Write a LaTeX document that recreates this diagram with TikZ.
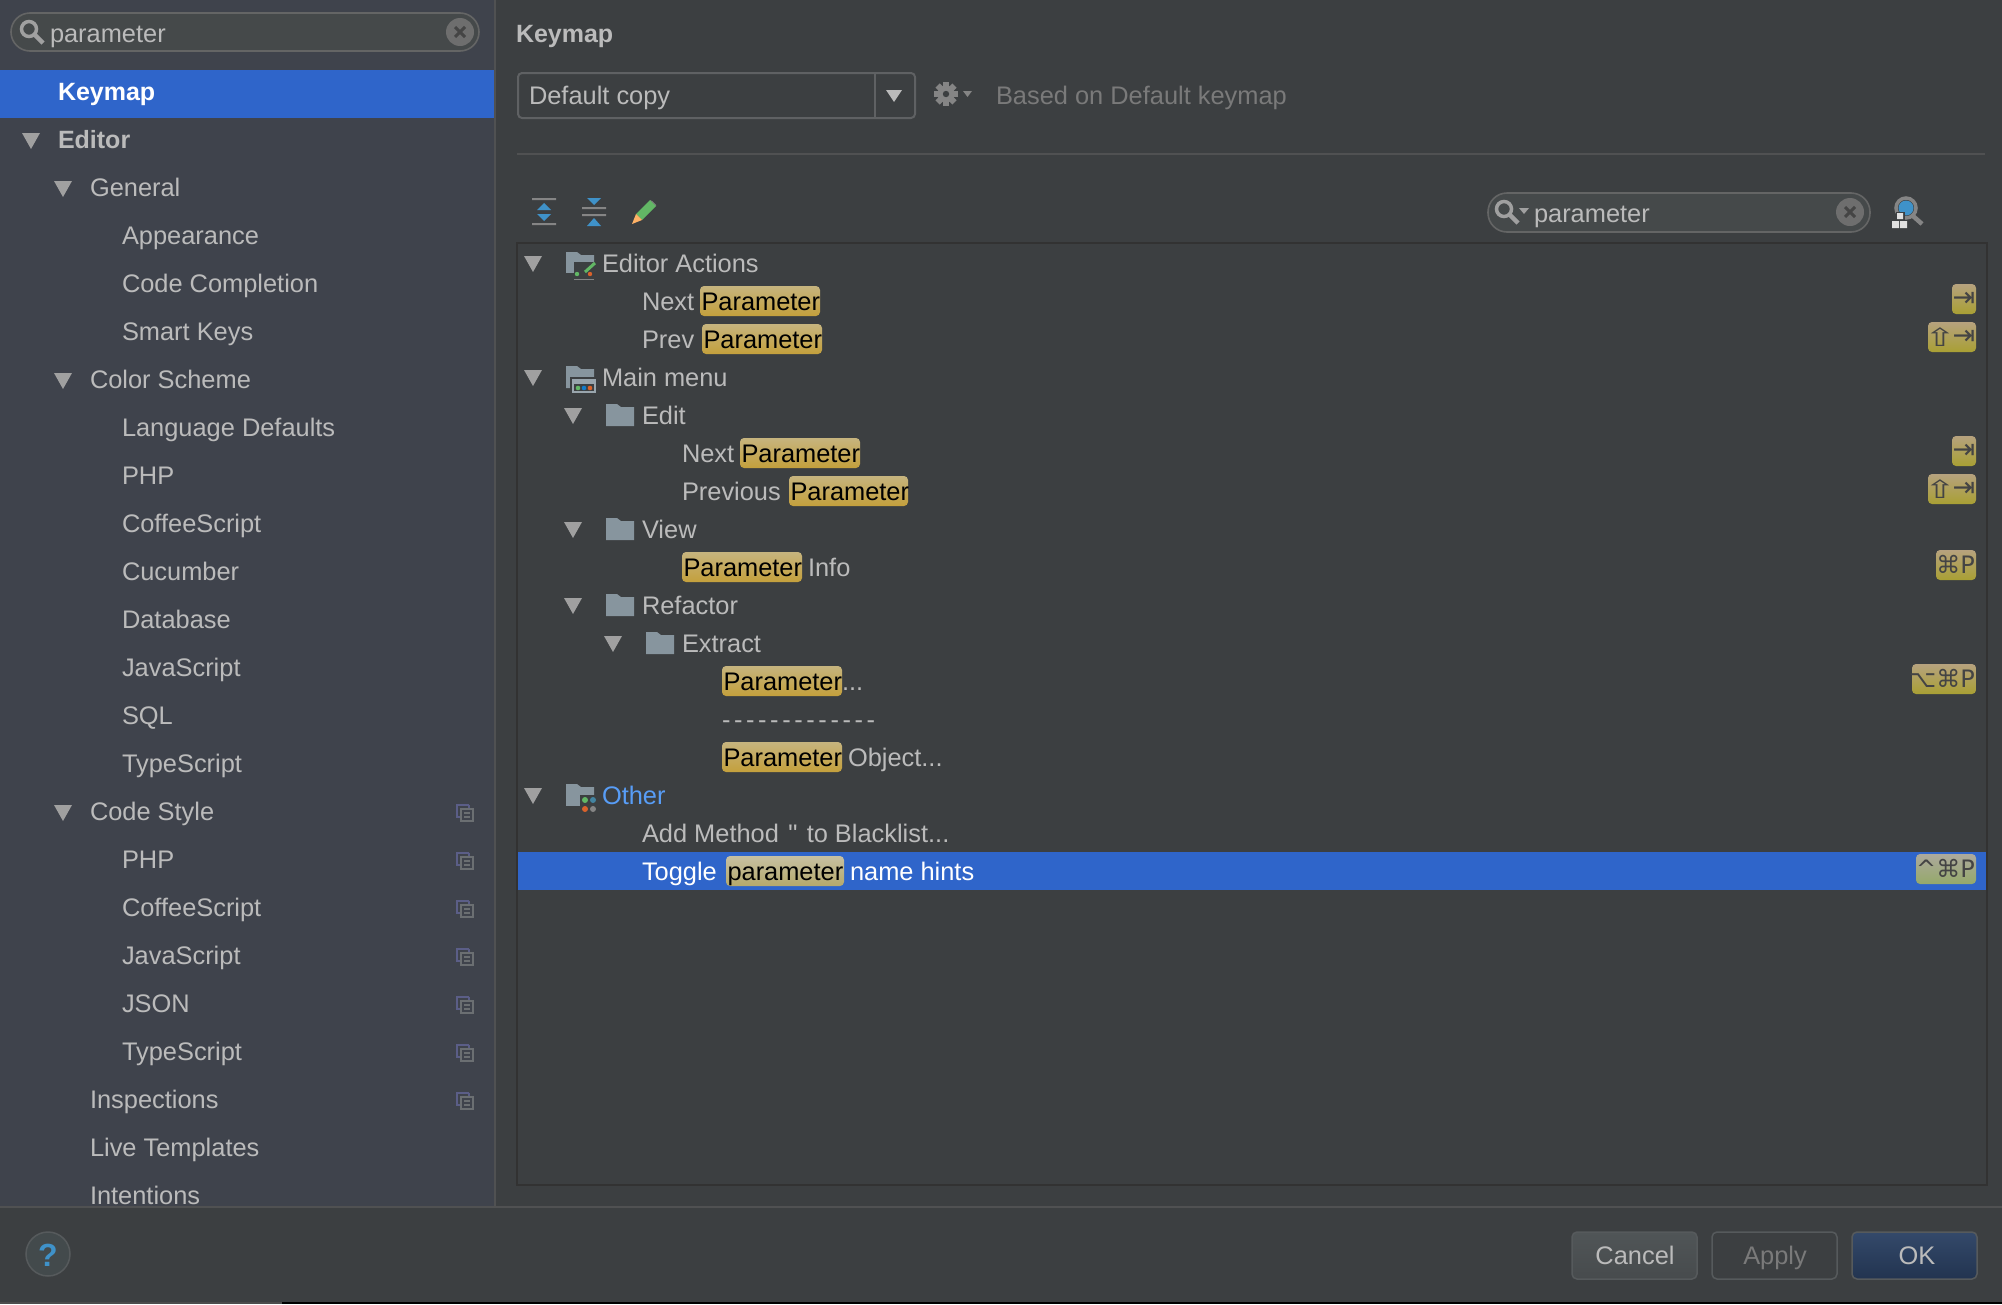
\documentclass[tikz,border=0pt]{standalone}
\usepackage{fontspec}
\setmainfont{Liberation Sans}
\newfontfamily\symfont{DejaVu Sans}
\newfontfamily\qfont{Liberation Sans}
\definecolor{sidebg}{HTML}{3F434C}
\definecolor{mainbg}{HTML}{3C3F41}
\definecolor{seltop}{HTML}{2F65CA}
\definecolor{txt}{HTML}{BBBBBB}
\definecolor{dimtxt}{HTML}{7A7A7A}
\definecolor{divd}{HTML}{505152}
\definecolor{boxline}{HTML}{323232}
\definecolor{tri}{HTML}{A0A0A0}
\definecolor{folderc}{HTML}{87959E}
\definecolor{iconb}{HTML}{3F92C9}
\definecolor{copyc}{HTML}{6B6F72}
\definecolor{fieldbg}{HTML}{45494A}
\definecolor{fieldln}{HTML}{646565}
\definecolor{clearc}{HTML}{6E6E6E}
\definecolor{clearx}{HTML}{454545}
\definecolor{comboln}{HTML}{5F6163}
\definecolor{linkc}{HTML}{589DF6}
\definecolor{greenc}{HTML}{62B765}
\definecolor{orangec}{HTML}{D9622B}
\definecolor{hltop}{HTML}{C6B47E}
\definecolor{hlbot}{HTML}{C4A03C}
\definecolor{keytop}{HTML}{B6A27E}
\definecolor{keybot}{HTML}{A9A034}
\definecolor{hlselt}{HTML}{C7C0A2}
\definecolor{hlselb}{HTML}{B5A96C}
\definecolor{keyselt}{HTML}{ADA99D}
\definecolor{keyselb}{HTML}{95A96A}
\definecolor{keyink}{HTML}{444444}
\definecolor{btnln}{HTML}{565A5C}
\definecolor{cantop}{HTML}{505557}
\definecolor{canbot}{HTML}{474B4D}
\definecolor{oktop}{HTML}{34496A}
\definecolor{okbot}{HTML}{223450}
\definecolor{helpbg}{HTML}{434A4C}
\definecolor{iconln}{HTML}{858585}
\newcommand{\fs}{\fontsize{25.4}{30}\selectfont}
\tikzset{
  x=1pt,y=-1pt,
  tlabel/.style={anchor=base west,inner sep=0pt,outer sep=0pt,text=txt,font=\fs},
  boldlabel/.style={tlabel,font=\fontsize{25}{30}\selectfont\bfseries},
  hltext/.style={tlabel,text=black},
  keytext/.style={anchor=base east,inner sep=0pt,text=keyink,font=\fontsize{24}{30}\selectfont\symfont},
  tabtext/.style={anchor=center,inner sep=0pt,text=keyink,font=\fontsize{27}{30}\selectfont\symfont},
  shifttext/.style={anchor=center,inner sep=0pt,text=keyink,font=\fontsize{25}{30}\selectfont\symfont,xscale=1.5},
  hlbox/.style={rounded corners=4pt,top color=hltop,bottom color=hlbot},
  keybox/.style={rounded corners=4pt,top color=keytop,bottom color=keybot},
  btnlabel/.style={anchor=base,inner sep=0pt,text=txt,font=\fs},
  btnbox/.style={line width=1.5pt,draw=btnln,rounded corners=5pt},
  treetri/.pic={\fill[tri] (0,0) -- (18,0) -- (9,16) -- cycle;},
  folderpic/.pic={\fill[folderc] (0,22) -- (0,0) -- (11,0) -- (15,3) -- (28,3) -- (28,22) -- cycle;},
  copypic/.pic={
    \draw[copyc!85!blue,line width=1.6pt] (13,1) -- (1,1) -- (1,13) -- (4,13);
    \draw[copyc!85!blue,line width=1.6pt] (13,1) -- (13,4);
    \draw[copyc,line width=1.6pt,fill=sidebg] (5,5) rectangle (17,17);
    \draw[copyc,line width=1.6pt] (8,9) -- (14,9) (8,13) -- (14,13);
  },
}
\newcommand{\srow}[4]{\node[tlabel] (#1) at (#2,{100+48*#3}) {#4};}
\newcommand{\trow}[4]{\node[tlabel] (#1) at (#2,{272+38*#3}) {#4};}
\newcommand{\hlword}[5]{% name x1 x2 row text
  \path[hlbox] (#2,{272+38*#4-24}) rectangle (#3,{272+38*#4+6});
  \node[hltext] (#1) at ({#2+1.5},{272+38*#4}) {#5};}
\newcommand{\keycap}[4]{% name x1 row text
  \path[keybox] (#2,{272+38*#3-26}) rectangle (1976,{272+38*#3+4});
  \node[keytext] (#1) at (1975,{272+38*#3-3}) {#4};}
\newcommand{\tabcap}[2]{% name row
  \path[keybox] (1952,{272+38*#2-26}) rectangle (1976,{272+38*#2+4});
  \node[tabtext] (#1) at (1964,{272+38*#2-11}) {⇥};}
\newcommand{\shiftcap}[2]{% name row
  \path[keybox] (1928,{272+38*#2-26}) rectangle (1976,{272+38*#2+4});
  \node[shifttext] (#1a) at (1940,{272+38*#2-11}) {⇧};
  \node[tabtext] (#1b) at (1964,{272+38*#2-11}) {⇥};}
\newcommand{\hy}{-\kern3.6pt}
\begin{document}
\begin{tikzpicture}
\useasboundingbox (0,0) rectangle (2002,1304);
% backgrounds
\fill[mainbg] (0,0) rectangle (2002,1304);
\fill[sidebg] (0,0) rectangle (494,1207);
\fill[divd] (494,0) rectangle (496,1207);
\fill[divd] (0,1206) rectangle (2002,1208);
\fill[black!70] (0,1302) rectangle (282,1304);
\fill[black] (282,1302) rectangle (2002,1304);
% sidebar search
\draw[line width=1.6pt,draw=fieldln,fill=fieldbg,rounded corners=19pt] (11,13) rectangle (479,51);
\draw[line width=3.5pt,tri] (29,29) circle (7.5);
\draw[line width=4.5pt,tri] (35,35) -- (43,43);
\node[tlabel] (sidesearch) at (50,42) {parameter};
\fill[clearc] (460,32) circle (14);
\draw[line width=3pt,clearx] (455,27) -- (465,37) (465,27) -- (455,37);
% sidebar selection
\fill[seltop] (0,70) rectangle (494,118);
\node[boldlabel,text=white] (keymap) at (58,100) {Keymap};
\node[boldlabel] (editor) at (58,148) {Editor};
\srow{general}{90}{2}{General}
\srow{appearance}{122}{3}{Appearance}
\srow{completion}{122}{4}{Code Completion}
\srow{smartkeys}{122}{5}{Smart Keys}
\srow{colorscheme}{90}{6}{Color Scheme}
\srow{langdef}{122}{7}{Language Defaults}
\srow{sphp}{122}{8}{PHP}
\srow{scoffee}{122}{9}{CoffeeScript}
\srow{scucumber}{122}{10}{Cucumber}
\srow{sdatabase}{122}{11}{Database}
\srow{sjava}{122}{12}{JavaScript}
\srow{ssql}{122}{13}{SQL}
\srow{stype}{122}{14}{TypeScript}
\srow{codestyle}{90}{15}{Code Style}
\srow{cphp}{122}{16}{PHP}
\srow{ccoffee}{122}{17}{CoffeeScript}
\srow{cjava}{122}{18}{JavaScript}
\srow{cjson}{122}{19}{JSON}
\srow{ctype}{122}{20}{TypeScript}
\srow{inspections}{90}{21}{Inspections}
\srow{livetemplates}{90}{22}{Live Templates}
\srow{intentions}{90}{23}{Intentions}
% sidebar triangles
\pic at (22,133) {treetri};
\pic at (54,181) {treetri};
\pic at (54,373) {treetri};
\pic at (54,805) {treetri};
% copy icons
\foreach \r in {15,...,21} {\pic at (456,{100+48*\r-16}) {copypic};}
% header
\node[boldlabel] (title) at (516,42) {Keymap};
\draw[line width=2pt,draw=comboln,rounded corners=4pt] (518,73) rectangle (915,118);
\draw[line width=2pt,draw=comboln] (875,73) -- (875,118);
\node[tlabel] (combotext) at (529,104) {Default copy};
\fill[txt] (886,90) -- (902,90) -- (894,102) -- cycle;
% gear
\fill[iconln] (946,94) circle (8.5);
\foreach \a in {0,45,...,315} {\fill[iconln,rotate around={\a:(946,94)}] (943,82) rectangle (949,88);}
\fill[mainbg] (946,94) circle (3.2);
\fill[iconln] (963,91) -- (972,91) -- (967.5,97) -- cycle;
\node[tlabel,text=dimtxt] (based) at (996,104) {Based on Default keymap};
\fill[divd] (517,153) rectangle (1985,155);
% toolbar icons
\fill[iconln] (532,198) rectangle (556,200) (532,223) rectangle (556,225);
\fill[iconb] (544,203) -- (551,210) -- (537,210) -- cycle (537,214) -- (551,214) -- (544,221) -- cycle;
\fill[iconln] (582,207) rectangle (606,209) (582,214) rectangle (606,216);
\fill[iconb] (587,198) -- (601,198) -- (594,205) -- cycle (594,218) -- (601,226) -- (587,226) -- cycle;
\fill[greenc] (636,214) -- (650,200) -- (656,206) -- (642,220) -- cycle;
\fill[iconln] (650,200) -- (652,201) -- (656,205) -- (656,206) -- cycle;
\fill[orange!60!white] (636,214) -- (642,220) -- (632,224) -- cycle;
% tree search
\draw[line width=1.6pt,draw=fieldln,fill=fieldbg,rounded corners=19pt] (1488,193) rectangle (1870,232);
\draw[line width=3.5pt,tri] (1504,209) circle (7.5);
\draw[line width=4.5pt,tri] (1510,215) -- (1518,223);
\fill[tri] (1519,208) -- (1529,208) -- (1524,214) -- cycle;
\node[tlabel] (treesearch) at (1534,222) {parameter};
\fill[clearc] (1850,212) circle (14);
\draw[line width=3pt,clearx] (1845,207) -- (1855,217) (1855,207) -- (1845,217);
% find usage icon
\draw[line width=4.5pt,iconln] (1913,216) -- (1922,224);
\fill[iconb] (1906,208) circle (7.5);
\draw[line width=3.5pt,iconln] (1906,208) circle (10);
\fill[mainbg] (1896,212) rectangle (1905,221);
\fill[black!12] (1897,213) rectangle (1903,219) (1892,221) rectangle (1899,228) (1900,221) rectangle (1907,228);
% tree box
\draw[line width=2pt,draw=boxline] (517,243) rectangle (1987,1185);
% selected row
\fill[seltop] (518,852) rectangle (1986,890);
% tree triangles
\foreach \xx/\r in {524/0,524/3,564/4,564/7,564/9,604/10,524/14} {\pic at (\xx,{272+38*\r-16}) {treetri};}
% folder icons
\pic at (566,252) {folderpic};
\pic at (566,366) {folderpic};
\pic at (606,404) {folderpic};
\pic at (606,518) {folderpic};
\pic at (606,594) {folderpic};
\pic at (646,632) {folderpic};
\pic at (566,784) {folderpic};
% folder decorations
\fill[mainbg] (574,262) rectangle (596,281);
\fill[mainbg] (566,273) rectangle (596,281);
\draw[line width=3pt,greenc] (585,272) -- (595,263);
\fill[greenc] (577,274) circle (2.2);
\fill[orangec] (590,274) circle (2.2);
\draw[line width=1.5pt,iconln] (574,279.5) -- (594,279.5);
\fill[mainbg] (570,377) rectangle (598,395);
\fill[folderc!85!white] (572,379) rectangle (596,393);
\fill[mainbg] (574,384) rectangle (594,391);
\fill[greenc] (578,388) circle (2.3);
\fill[cyan!60!blue] (584,388) circle (2.3);
\fill[orangec] (590,388) circle (2.3);
\fill[mainbg] (566,806) rectangle (596,814);
\fill[mainbg] (580,795) rectangle (596,814);
\fill[greenc] (585,800) circle (3);
\fill[cyan!60!black] (593,800) circle (3);
\fill[orangec] (585,809) circle (3);
\fill[iconln] (593,809) circle (3);
% tree rows
\trow{editoractions}{602}{0}{Editor Actions}
\trow{nextlab}{642}{1}{Next}
\hlword{nextpar}{700}{820}{1}{Parameter}
\trow{prevlab}{642}{2}{Prev}
\hlword{prevpar}{702}{822}{2}{Parameter}
\trow{mainmenu}{602}{3}{Main menu}
\trow{edit}{642}{4}{Edit}
\trow{nextlabb}{682}{5}{Next}
\hlword{nextparb}{740}{860}{5}{Parameter}
\trow{prevlabb}{682}{6}{Previous}
\hlword{prevparb}{789}{908}{6}{Parameter}
\trow{view}{642}{7}{View}
\hlword{infopar}{682}{802}{8}{Parameter}
\trow{infolab}{808}{8}{Info}
\trow{refactor}{642}{9}{Refactor}
\trow{extract}{682}{10}{Extract}
\hlword{extractpar}{722}{842}{11}{Parameter}
\trow{dots}{842}{11}{...}
\trow{dashes}{722}{12}{\hy\hy\hy\hy\hy\hy\hy\hy\hy\hy\hy\hy-}
\hlword{objpar}{722}{842}{13}{Parameter}
\trow{objlab}{848}{13}{Object...}
\node[tlabel,text=linkc] (other) at (602,804) {Other};
\trow{addmethod}{642}{15}{Add Method {\qfont\kern2pt''\kern2pt} to Blacklist...}
\node[tlabel,text=white] (toggle) at (642,880) {Toggle};
\path[rounded corners=4pt,top color=hlselt,bottom color=hlselb] (726,856) rectangle (844,886);
\node[hltext] (togglepar) at (727.5,880) {parameter};
\node[tlabel,text=white] (hints) at (850,880) {name hints};
% shortcuts
\tabcap{k1}{1}
\shiftcap{k2}{2}
\tabcap{k3}{5}
\shiftcap{k4}{6}
\keycap{k5}{1936}{8}{⌘P}
\keycap{k6}{1912}{11}{⌥⌘P}
\path[rounded corners=4pt,top color=keyselt,bottom color=keyselb] (1916,854) rectangle (1976,884);
\node[keytext] (k7) at (1975,877) {\^{}⌘P};
% footer
\draw[line width=1.5pt,draw=btnln,fill=helpbg] (48,1254) circle (22);
\node[anchor=base,inner sep=0pt,text=iconb,font=\fontsize{32}{36}\selectfont\bfseries] (help) at (48,1266) {?};
\draw[btnbox,top color=cantop,bottom color=canbot] (1572,1232) rectangle (1697,1279);
\node[btnlabel] (cancel) at (1635,1264) {Cancel};
\draw[btnbox] (1712,1232) rectangle (1837,1279);
\node[btnlabel,text=dimtxt] (apply) at (1775,1264) {Apply};
\draw[btnbox,top color=oktop,bottom color=okbot] (1852,1232) rectangle (1977,1279);
\node[btnlabel] (ok) at (1917,1264) {OK};
\end{tikzpicture}
\end{document}
